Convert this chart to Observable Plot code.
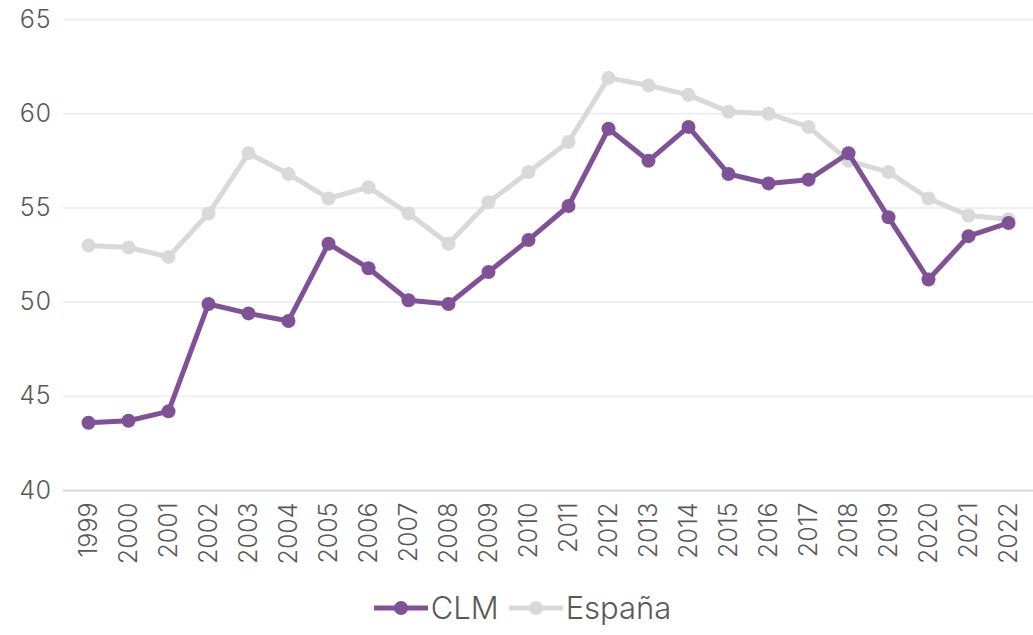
<!DOCTYPE html>
<html>
<head>
<meta charset="utf-8">
<script src="https://cdn.jsdelivr.net/npm/d3@7"></script>
<script src="https://cdn.jsdelivr.net/npm/@observablehq/plot@0.6"></script>
<style>
  body { margin: 0; background: #fff; font-family: Inter, "Noto Sans", sans-serif; }
  #legend { display: flex; justify-content: center; align-items: center; height: 55px; font-size: 31px; color: #595959; gap: 8px; margin-left: 10px; }
  .item { display: flex; align-items: center; gap: 1px; }
</style>
</head>
<body>
<div id="chart"></div>
<div id="legend"></div>
<script>
const years = ["1999","2000","2001","2002","2003","2004","2005","2006","2007","2008","2009","2010","2011","2012","2013","2014","2015","2016","2017","2018","2019","2020","2021","2022"];
const clm = [43.6,43.7,44.2,49.9,49.4,49.0,53.1,51.8,50.1,49.9,51.6,53.3,55.1,59.2,57.5,59.3,56.8,56.3,56.5,57.9,54.5,51.2,53.5,54.2];
const espana = [53.0,52.9,52.4,54.7,57.9,56.8,55.5,56.1,54.7,53.1,55.3,56.9,58.5,61.9,61.5,61.0,60.1,60.0,59.3,57.5,56.9,55.5,54.6,54.4];
const yTicks = [40,45,50,55,60,65];
const seriesNames = ["CLM","España"];
const colors = ["#7f5297","#d9d9d9"];

const rowsCLM = years.map((y,i)=>({year:y, value:clm[i], serie:"CLM"}));
const rowsEsp = years.map((y,i)=>({year:y, value:espana[i], serie:"España"}));

const plot = Plot.plot({
  width: 1033,
  height: 580,
  marginLeft: 63,
  marginRight: 0,
  marginTop: 19,
  marginBottom: 90,
  style: {fontFamily: "Inter, 'Noto Sans', sans-serif", fontSize: "24px", color: "#595959", background: "#fff"},
  x: {type: "point", domain: years, padding: 0.5, label: null},
  y: {domain: [40,65], label: null},
  marks: [
    Plot.ruleY(yTicks.filter(t=>t>40), {stroke: "#efefef", strokeWidth: 2}),
    Plot.ruleY([40], {stroke: "#d9d9d9", strokeWidth: 2}),
    Plot.axisY({ticks: yTicks, tickSize: 0, tickPadding: 12, fontSize: 25, fill: "#595959", fontWeight: 300}),
    Plot.axisX({tickSize: 0, tickPadding: 12, tickRotate: -90, fontSize: 25, fill: "#595959", fontWeight: 300}),
    Plot.line(rowsEsp, {x: "year", y: "value", stroke: colors[1], strokeWidth: 5}),
    Plot.dot(rowsEsp, {x: "year", y: "value", fill: colors[1], r: 7}),
    Plot.line(rowsCLM, {x: "year", y: "value", stroke: colors[0], strokeWidth: 5}),
    Plot.dot(rowsCLM, {x: "year", y: "value", fill: colors[0], r: 7})
  ]
});
document.getElementById("chart").appendChild(plot);

const legend = document.getElementById("legend");
seriesNames.forEach((name,i)=>{
  const item = document.createElement("div");
  item.className = "item";
  item.innerHTML = `<svg width="58" height="20"><line x1="2" x2="56" y1="10" y2="10" stroke="${colors[i]}" stroke-width="5"/><circle cx="29" cy="10" r="7" fill="${colors[i]}"/></svg><span style="font-weight:300">${name}</span>`;
  legend.appendChild(item);
});
</script>
</body>
</html>
